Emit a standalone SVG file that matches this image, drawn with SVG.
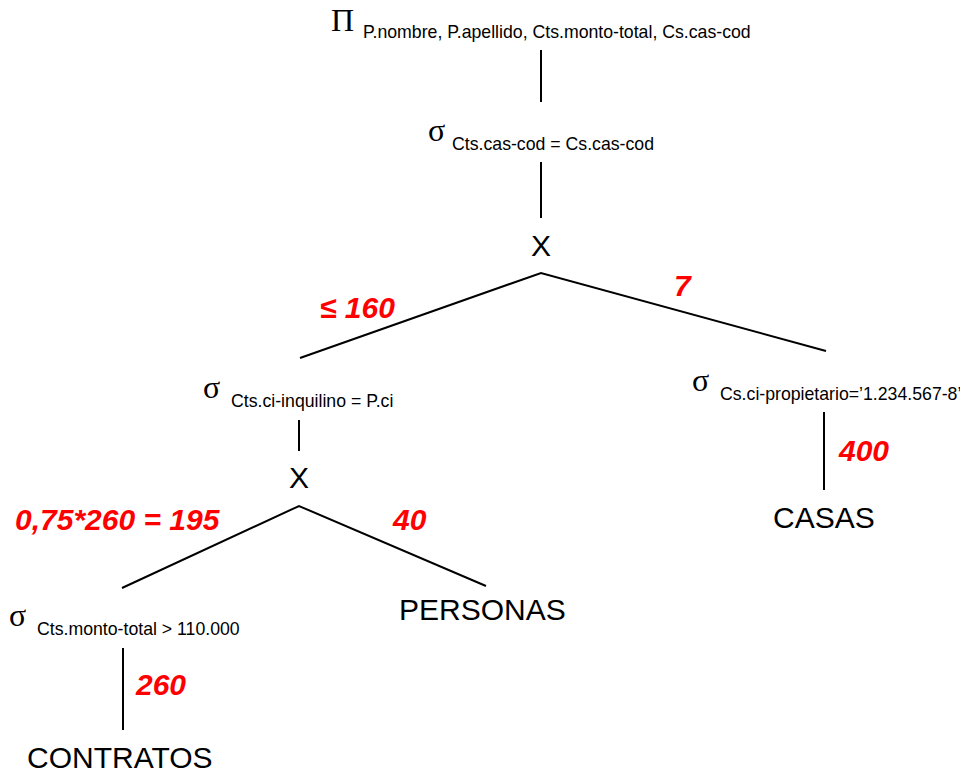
<svg xmlns="http://www.w3.org/2000/svg" width="960" height="774" viewBox="0 0 960 774">
<style>
.g{font-family:"Liberation Serif","Times New Roman",serif;font-size:32px;fill:#000}
.s{font-family:"Liberation Sans",Arial,sans-serif;font-size:17.7px;fill:#000}
.n{font-family:"Liberation Sans",Arial,sans-serif;font-size:30px;fill:#000}
.r{font-family:"Liberation Sans",Arial,sans-serif;font-size:30px;font-weight:bold;font-style:italic;fill:#ff0000}
.e{stroke:#000;stroke-width:2;fill:none}
</style>
<rect width="960" height="774" fill="#fff"/>
<g id="connectors">
<line class="e" x1="541" y1="50" x2="541" y2="102"/>
<line class="e" x1="541" y1="162" x2="541" y2="218"/>
<polyline class="e" points="300,358 541,273 826,351"/>
<line class="e" x1="299" y1="420" x2="299" y2="451"/>
<polyline class="e" points="122,588 299,506 486,586"/>
<line class="e" x1="123" y1="648" x2="123" y2="730"/>
<line class="e" x1="824" y1="412" x2="824" y2="490"/>
</g>
<g id="labels">
<text class="r" x="320" y="318">≤ 160</text>
<text class="r" x="674" y="296">7</text>
<text class="r" x="15" y="530">0,75*260 = 195</text>
<text class="r" x="393" y="530">40</text>
<text class="r" x="136" y="695">260</text>
<text class="r" x="839" y="461">400</text>
</g>
<g id="proj">
<text class="g" x="331" y="31">Π</text>
<text class="s" x="363" y="38">P.nombre, P.apellido, Cts.monto-total, Cs.cas-cod</text>
</g>
<g id="sel1">
<text class="g" x="428" y="141">σ</text>
<text class="s" x="452" y="150">Cts.cas-cod = Cs.cas-cod</text>
</g>
<g id="x1"><text class="n" x="541" y="256" text-anchor="middle">X</text></g>
<g id="sel2">
<text class="g" x="203" y="398">σ</text>
<text class="s" x="231" y="407">Cts.ci-inquilino = P.ci</text>
</g>
<g id="sel3">
<text class="g" x="692" y="391">σ</text>
<text class="s" x="720" y="400">Cs.ci-propietario=’1.234.567-8’</text>
</g>
<g id="x2"><text class="n" x="299" y="488" text-anchor="middle">X</text></g>
<g id="sel4">
<text class="g" x="9" y="626">σ</text>
<text class="s" x="37" y="635">Cts.monto-total &gt; 110.000</text>
</g>
<g id="personas"><text class="n" x="399" y="620">PERSONAS</text></g>
<g id="casas"><text class="n" x="773" y="528">CASAS</text></g>
<g id="contratos"><text class="n" x="27" y="768">CONTRATOS</text></g>
</svg>
